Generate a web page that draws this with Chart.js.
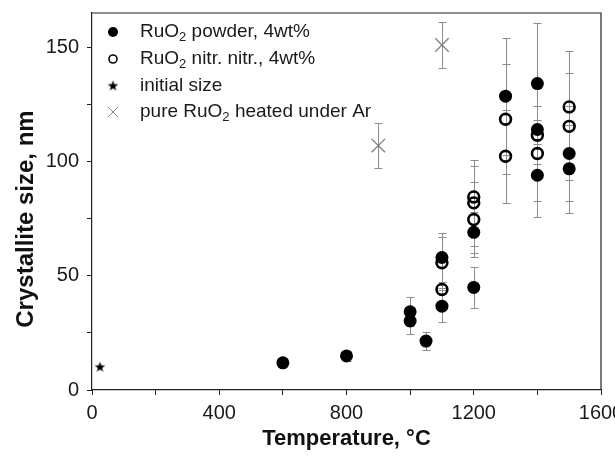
<!DOCTYPE html>
<html lang="en">
<head>
<meta charset="UTF-8">
<title>Crystallite size vs temperature</title>
<script src="https://cdn.jsdelivr.net/npm/chart.js"></script>
<style>
  * { margin: 0; padding: 0; }
  body { background: #fff; }
</style>
</head>
<body>
<canvas id="myChart" width="615" height="462"></canvas>
<script>
// values
const powderTemp = [600, 800, 1000, 1000, 1050, 1100, 1100, 1200, 1200, 1300, 1400, 1400, 1400, 1500, 1500];
const powderSize = [11.9, 14.9, 34.2, 30.2, 21.4, 58, 36.7, 69, 44.9, 128.6, 134.1, 114, 94, 103.5, 96.8];
const powderErr  = [1, 2, 6.3, 5.8, 4, 10.8, 7.1, 9, 8.9, 25.6, 26.5, 4, 18.5, 20.7, 19.3];

const nitrTemp = [1100, 1100, 1200, 1200, 1200, 1300, 1300, 1400, 1400, 1500, 1500];
const nitrSize = [55.7, 44, 84.5, 81.9, 74.6, 118.5, 102.3, 111.5, 103.5, 123.9, 115.4];
const nitrErr  = [11.1, 2, 13.5, 18.7, 16.6, 24, 20.4, 12.7, 20.7, 24.5, 23.4];

const initTemp = [25];
const initSize = [10];

const pureTemp = [900, 1100];
const pureSize = [107, 151];
const pureErr  = [10, 10];

const xTicks = [0, 400, 800, 1200, 1600];
const yTicks = [0, 50, 100, 150];

const FONT = "'Liberation Sans', Arial, sans-serif";

function pts(xs, ys) {
  return xs.map((x, i) => ({ x: x, y: ys[i] }));
}

// filled five point star used as point style
function makeStar(r) {
  const c = document.createElement('canvas');
  const s = Math.ceil(r * 2) + 2;
  c.width = c.height = s;
  const g = c.getContext('2d');
  g.fillStyle = '#000';
  g.beginPath();
  for (let i = 0; i < 10; i++) {
    const rr = i % 2 ? r * 0.42 : r;
    const a = -Math.PI / 2 + i * Math.PI / 5;
    g.lineTo(s / 2 + rr * Math.cos(a), s / 2 + rr * Math.sin(a));
  }
  g.closePath();
  g.fill();
  return c;
}

const errorBars = {
  id: 'errorBars',
  beforeDatasetsDraw(chart) {
    const ctx = chart.ctx, xs = chart.scales.x, ys = chart.scales.y;
    ctx.save();
    ctx.strokeStyle = '#8c8c8c';
    ctx.lineWidth = 1;
    chart.data.datasets.forEach(ds => {
      if (!ds.errors) return;
      ds.data.forEach((p, i) => {
        const e = ds.errors[i];
        if (!e) return;
        const x = Math.round(xs.getPixelForValue(p.x)) + 0.5;
        const y1 = Math.round(ys.getPixelForValue(p.y + e)) + 0.5;
        const y2 = Math.round(ys.getPixelForValue(p.y - e)) + 0.5;
        ctx.beginPath();
        ctx.moveTo(x, y1); ctx.lineTo(x, y2);
        ctx.moveTo(x - 4, y1); ctx.lineTo(x + 4, y1);
        ctx.moveTo(x - 4, y2); ctx.lineTo(x + 4, y2);
        ctx.stroke();
      });
    });
    ctx.restore();
  }
};

// top and right sides of the frame, plus the y title
const frame = {
  id: 'frame',
  afterDatasetsDraw(chart) {
    const a = chart.chartArea, ctx = chart.ctx;
    ctx.save();
    ctx.strokeStyle = '#222';
    ctx.lineWidth = 1.2;
    ctx.beginPath();
    ctx.moveTo(a.left, a.top); ctx.lineTo(a.right, a.top); ctx.lineTo(a.right, a.bottom);
    ctx.stroke();

    ctx.translate(26, 219);
    ctx.rotate(-Math.PI / 2);
    ctx.textAlign = 'center';
    ctx.textBaseline = 'middle';
    ctx.fillStyle = '#111';
    ctx.font = 'bold 24px ' + FONT;
    ctx.fillText('Crystallite size, nm', 0, 0);
    ctx.restore();
  }
};

// text with a subscript "2"
function drawRich(ctx, parts, x, y) {
  parts.forEach(p => {
    if (p[1]) {
      ctx.font = '13px ' + FONT;
      ctx.fillText(p[0], x, y + 5);
    } else {
      ctx.font = '19px ' + FONT;
      ctx.fillText(p[0], x, y);
    }
    x += ctx.measureText(p[0]).width;
  });
}

const legendBox = {
  id: 'legendBox',
  afterDraw(chart) {
    const ctx = chart.ctx;
    const mx = 113, tx = 140;
    const rows = [32, 59, 86, 112];
    ctx.save();
    ctx.textBaseline = 'middle';

    // filled circle
    ctx.beginPath(); ctx.arc(mx, rows[0], 5, 0, Math.PI * 2); ctx.fillStyle = '#000'; ctx.fill();
    // open circle
    ctx.beginPath(); ctx.arc(mx, rows[1], 4, 0, Math.PI * 2);
    ctx.lineWidth = 1.6; ctx.strokeStyle = '#000'; ctx.stroke();
    // star
    const st = makeStar(5.5);
    ctx.drawImage(st, mx - st.width / 2, rows[2] - st.width / 2);
    // cross
    ctx.beginPath();
    ctx.strokeStyle = '#888'; ctx.lineWidth = 1;
    ctx.moveTo(mx - 5, rows[3] - 5); ctx.lineTo(mx + 5, rows[3] + 5);
    ctx.moveTo(mx + 5, rows[3] - 5); ctx.lineTo(mx - 5, rows[3] + 5);
    ctx.stroke();

    ctx.fillStyle = '#1a1a1a';
    drawRich(ctx, [['RuO', 0], ['2', 1], [' powder, 4wt%', 0]], tx, rows[0]);
    drawRich(ctx, [['RuO', 0], ['2', 1], [' nitr. nitr., 4wt%', 0]], tx, rows[1]);
    drawRich(ctx, [['initial size', 0]], tx, rows[2]);
    drawRich(ctx, [['pure RuO', 0], ['2', 1], [' heated under Ar', 0]], tx, rows[3]);
    ctx.restore();
  }
};

const data = {
  datasets: [{
    label: 'RuO2 powder, 4wt%',
    data: pts(powderTemp, powderSize),
    errors: powderErr,
    pointStyle: 'circle',
    pointRadius: 6.5,
    backgroundColor: '#000',
    borderColor: '#000',
    borderWidth: 0,
    order: 3
  }, {
    label: 'RuO2 nitr. nitr., 4wt%',
    data: pts(nitrTemp, nitrSize),
    errors: nitrErr,
    pointStyle: 'circle',
    pointRadius: 5.4,
    backgroundColor: 'rgba(255,255,255,0)',
    borderColor: '#000',
    borderWidth: 2.6,
    order: 2
  }, {
    label: 'initial size',
    data: pts(initTemp, initSize),
    pointStyle: makeStar(5.5),
    order: 1
  }, {
    label: 'pure RuO2 heated under Ar',
    data: pts(pureTemp, pureSize),
    errors: pureErr,
    pointStyle: 'crossRot',
    pointRadius: 9.5,
    borderColor: '#7a7a7a',
    borderWidth: 1.2,
    order: 1
  }]
};

const config = {
  type: 'scatter',
  data,
  options: {
    responsive: false,
    animation: false,
    layout: { padding: { left: 0, top: 13, right: 14, bottom: 0 } },
    plugins: {
      legend: { display: false },
      tooltip: { enabled: false }
    },
    scales: {
      x: {
        type: 'linear',
        min: 0,
        max: 1600,
        afterBuildTicks(scale) {
          const t = [];
          for (let v = 0; v <= 1600; v += 200) t.push({ value: v });
          scale.ticks = t;
        },
        afterFit(scale) {
          scale.height = 72;
          scale.paddingLeft = 0;
          scale.paddingRight = 0;
        },
        border: { display: true, color: '#222', width: 1.2 },
        grid: { drawOnChartArea: false, drawTicks: true, tickLength: 5, color: '#222' },
        ticks: {
          padding: 6,
          maxRotation: 0,
          autoSkip: false,
          color: '#1a1a1a',
          font: { family: FONT, size: 20 },
          callback: v => xTicks.includes(v) ? v : ''
        },
        title: {
          display: true,
          text: 'Temperature, °C',
          color: '#111',
          font: { family: FONT, size: 22, weight: 'bold' },
          padding: { top: 10, bottom: 10 }
        }
      },
      y: {
        type: 'linear',
        min: 0,
        max: 165,
        afterBuildTicks(scale) {
          const t = [];
          for (let v = 0; v <= 150; v += 25) t.push({ value: v });
          scale.ticks = t;
        },
        afterFit(scale) {
          scale.width = 92;
          scale.paddingTop = 0;
          scale.paddingBottom = 0;
        },
        border: { display: true, color: '#222', width: 1.2 },
        grid: { drawOnChartArea: false, drawTicks: true, tickLength: 5, color: '#222' },
        ticks: {
          padding: 8,
          autoSkip: false,
          color: '#1a1a1a',
          font: { family: FONT, size: 20 },
          callback: v => yTicks.includes(v) ? v : ''
        }
      }
    }
  },
  plugins: [errorBars, frame, legendBox]
};

const myChart = new Chart(document.getElementById('myChart'), config);
</script>
</body>
</html>
